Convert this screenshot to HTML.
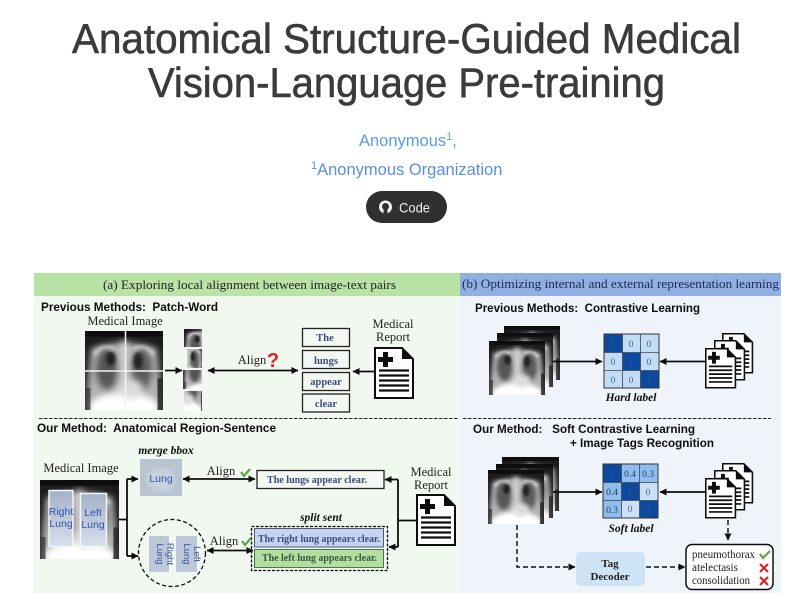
<!DOCTYPE html>
<html><head><meta charset="utf-8"><style>
html,body{margin:0;padding:0;background:#fff;width:800px;height:600px;overflow:hidden}
svg{display:block}
text{font-family:"Liberation Sans",sans-serif}
.s{font-family:"Liberation Serif",serif}
.h{font-weight:bold;font-size:12px;fill:#111;white-space:pre}
.b{font-family:"Liberation Serif",serif;font-weight:bold;fill:#3d4a80;font-size:10.5px;text-anchor:middle}
.t{font-family:"Liberation Serif",serif;font-size:12.5px;fill:#222;text-anchor:middle}
.l{fill:none;stroke:#111;stroke-width:1.8}
.d{fill:none;stroke:#111;stroke-width:1.4;stroke-dasharray:5 3}
.i{font-family:"Liberation Serif",serif;font-weight:bold;font-style:italic;font-size:11.5px;fill:#111;text-anchor:middle}
.m{font-family:"Liberation Serif",serif;font-size:9.5px;text-anchor:middle;fill:#46688f}
.lt{font-size:10.5px;fill:#3553a6;text-anchor:middle}
.it{font-family:"Liberation Serif",serif;font-size:11.5px;fill:#222}
</style></head><body>
<svg xmlns="http://www.w3.org/2000/svg" width="800" height="600" viewBox="0 0 800 600">
<defs>
<filter id="bl" x="-40%" y="-40%" width="180%" height="180%"><feGaussianBlur stdDeviation="4"/></filter>
<filter id="bm" x="-40%" y="-40%" width="180%" height="180%"><feGaussianBlur stdDeviation="2"/></filter>
<filter id="bs" x="-30%" y="-30%" width="160%" height="160%"><feGaussianBlur stdDeviation="1.6"/></filter>
<filter id="tb" x="-5%" y="-5%" width="110%" height="110%"><feGaussianBlur stdDeviation="0.35"/></filter>
<clipPath id="c100"><rect width="100" height="100"/></clipPath>
<marker id="a" markerWidth="8" markerHeight="8" refX="6.500" refY="3.500" orient="auto-start-reverse" markerUnits="userSpaceOnUse"><path d="M0 0L7 3.500L0 7Z" fill="#111"/></marker>
<linearGradient id="g2" x1="0" y1="0" x2="0" y2="1"><stop offset="0" stop-color="#a4b2c9"/><stop offset="1" stop-color="#d5dfec"/></linearGradient>
<g id="x"><g clip-path="url(#c100)">
<rect width="100" height="100" fill="#1c1c1c"/>
<g filter="url(#bl)">
<path d="M8 22Q50 8 92 22L100 100H0Z" fill="#b4b4b4"/>
<ellipse cx="28" cy="48" rx="15" ry="27" fill="#565656"/>
<ellipse cx="73" cy="48" rx="14" ry="27" fill="#5c5c5c"/>
<ellipse cx="50" cy="100" rx="46" ry="22" fill="#fff"/>
<ellipse cx="58" cy="74" rx="16" ry="12" fill="#ddd"/>
<rect x="45" y="12" width="10" height="50" fill="#cfcfcf"/>
</g>
<g filter="url(#bm)">
<ellipse cx="33" cy="35" rx="6" ry="9" fill="#222"/>
<ellipse cx="68" cy="38" rx="6" ry="11" fill="#262626"/>
<path d="M12 30Q20 16 38 22M88 30Q80 16 62 22" fill="none" stroke="#ddd" stroke-width="3"/>
</g>
<rect width="100" height="7" fill="#111"/>
<rect x="0" y="72" width="7" height="28" fill="#333" opacity=".7"/><rect x="93" y="60" width="7" height="40" fill="#222" opacity=".8"/>
</g></g>
<g id="doc"><path d="M1 1H28L39 12V51H1Z" fill="#fff" stroke="#111" stroke-width="2"/><path d="M28 1L39 12H28Z" fill="#111"/>
<path d="M9 5h5v5h5v5h-5v5h-5v-5h-5v-5h5z" fill="#111"/>
<path d="M5 23.500H35M5 28.500H35M5 33.500H35M5 38.500H35M5 43.500H35" stroke="#111" stroke-width="2.200"/></g>
<g id="docs"><use href="#doc" transform="translate(17,-15) scale(.78)"/><use href="#doc" transform="translate(9,-8) scale(.78)"/><use href="#doc" transform="scale(.78)"/></g>
</defs>
<rect width="800" height="600" fill="#fff"/>

<g filter="url(#tb)">
<text x="72" y="53" font-size="42" fill="#3a3a3a" stroke="#3a3a3a" stroke-width=".6" textLength="669" lengthAdjust="spacingAndGlyphs">Anatomical Structure-Guided Medical</text>
<text x="148" y="97" font-size="42" fill="#3a3a3a" stroke="#3a3a3a" stroke-width=".6" textLength="517" lengthAdjust="spacingAndGlyphs">Vision-Language Pre-training</text>
<text x="359" y="146" font-size="16.500" fill="#5a9be6">Anonymous<tspan font-size="11" dy="-6">1</tspan><tspan dy="6">,</tspan></text>
<text x="311" y="175" font-size="16.500" fill="#5a8fdc"><tspan font-size="11" dy="-6">1</tspan><tspan dy="6">Anonymous Organization</tspan></text>
</g>
<rect x="366" y="191" width="81" height="32" rx="16" fill="#303030"/>
<circle cx="385.500" cy="207" r="6.500" fill="#f2f2f2"/>
<path d="M382 206.500a3.500 3.500 0 0 1 7 0a3.500 3.500 0 0 1 -7 0M383.500 209.500h4v4h-4z" fill="#303030"/>
<text x="399" y="212.500" font-size="14" fill="#eee" textLength="31" lengthAdjust="spacingAndGlyphs">Code</text>

<rect x="34" y="273" width="426" height="320" fill="#f1f8ef"/>
<rect x="460" y="273" width="321" height="320" fill="#eff4fb"/>
<rect x="34" y="273" width="426" height="23" fill="#b9e3a6"/>
<rect x="460" y="273" width="321" height="23" fill="#8fb0e0"/>

<g filter="url(#tb)">
<text class="s" x="103" y="289" font-size="13" fill="#222" textLength="293" lengthAdjust="spacingAndGlyphs">(a) Exploring local alignment between image-text pairs</text>
<text class="s" x="462" y="288" font-size="13" fill="#1e2a55" textLength="317" lengthAdjust="spacingAndGlyphs">(b) Optimizing internal and external representation learning</text>

<text class="h" x="41" y="311" textLength="177" lengthAdjust="spacingAndGlyphs">Previous Methods:  Patch-Word</text>
<text class="t" x="125" y="325">Medical Image</text>
<use href="#x" transform="translate(85,331) scale(.78,.79)"/>
<path d="M125.500 331V410M85 371H163" stroke="#f2f2f2" stroke-width="1.500"/>
<svg x="184" y="329" width="18" height="18" viewBox="0 10 45 45" preserveAspectRatio="none"><use href="#x"/></svg>
<svg x="187" y="349" width="15" height="19" viewBox="50 20 45 45" preserveAspectRatio="none"><use href="#x"/></svg>
<svg x="183" y="370" width="19" height="19" viewBox="0 45 45 45" preserveAspectRatio="none"><use href="#x"/></svg>
<svg x="184" y="391" width="18" height="20" viewBox="50 55 45 45" preserveAspectRatio="none"><use href="#x"/></svg>
<path class="l" d="M165 370.500H182" marker-end="url(#a)"/>
<path class="l" d="M208 370.500H298" marker-start="url(#a)" marker-end="url(#a)"/>
<text class="t" x="252" y="364">Align</text>
<text x="273" y="367" font-size="20" font-weight="bold" fill="#e02020" text-anchor="middle">?</text>
<g fill="#f4f8f2" stroke="#222" stroke-width="1.300">
<rect x="302.500" y="328.500" width="47" height="18"/><rect x="302.500" y="350.500" width="47" height="18"/><rect x="302.500" y="372.500" width="47" height="18"/><rect x="302.500" y="394" width="47" height="18"/></g>
<text class="b" x="325" y="341">The</text><text class="b" x="326" y="364">lungs</text><text class="b" x="326" y="385">appear</text><text class="b" x="326" y="407">clear</text>
<text class="t" x="393" y="328">Medical</text><text class="t" x="393" y="341">Report</text>
<use href="#doc" transform="translate(374,347)"/>
<path class="l" d="M374 371.500H353" marker-end="url(#a)"/>
<path d="M39 418.500H458" stroke="#222" stroke-width="1" stroke-dasharray="3.500 1.500" fill="none"/>

<text class="h" x="37" y="432" textLength="239" lengthAdjust="spacingAndGlyphs">Our Method:  Anatomical Region-Sentence</text>
<text class="i" x="166" y="454">merge bbox</text>
<text class="t" x="81" y="472">Medical Image</text>
<use href="#x" transform="translate(40,480) scale(.79)"/>
<rect x="49" y="490.500" width="24" height="56" fill="url(#g2)" stroke="#f5f5f5" stroke-width="1.500"/>
<rect x="80.500" y="493.500" width="26" height="53" fill="url(#g2)" stroke="#f5f5f5" stroke-width="1.500"/>
<text class="lt" x="61" y="515">Right</text><text class="lt" x="61" y="527">Lung</text>
<text class="lt" x="93" y="516">Left</text><text class="lt" x="93" y="528">Lung</text>
<rect x="140" y="459" width="42" height="37" fill="#b9c4d2"/>
<ellipse cx="161" cy="480" rx="14" ry="12" fill="#c8d2de" filter="url(#bs)"/>
<text class="lt" x="161" y="482">Lung</text>
<path class="l" d="M119 519.500H127M127 479V556"/>
<path class="l" d="M127 479H138" marker-end="url(#a)"/>
<path class="l" d="M127 556H138" marker-end="url(#a)"/>
<path class="l" d="M183 479H255" marker-start="url(#a)" marker-end="url(#a)"/>
<text class="t" x="221" y="475">Align</text>
<path d="M241 472l3 4l6-7" fill="none" stroke="#58a848" stroke-width="2.200"/>
<rect x="257" y="470.500" width="127" height="18" fill="#f4f8f2" stroke="#222" stroke-width="1.300"/>
<text class="b" x="267" y="483" style="text-anchor:start" textLength="100" lengthAdjust="spacingAndGlyphs">The lungs appear clear.</text>
<path class="l" d="M416 520.500H398M398 479.500V547"/>
<path class="l" d="M398 479.500H385" marker-end="url(#a)"/>
<path class="l" d="M398 547H389" marker-end="url(#a)"/>
<text class="t" x="431" y="476">Medical</text><text class="t" x="431" y="489">Report</text>
<use href="#doc" transform="translate(416,494)"/>
<text class="i" x="321" y="521">split sent</text>
<rect x="251.500" y="526.500" width="136" height="44" fill="none" stroke="#111" stroke-width="1.300" stroke-dasharray="3 1.500"/>
<rect x="254.500" y="528.500" width="129" height="18.500" fill="#c5d5ef" stroke="#557" stroke-width="1"/>
<rect x="254.500" y="549.500" width="129" height="18" fill="#b6dda0" stroke="#475" stroke-width="1"/>
<text class="b" x="258" y="542" style="text-anchor:start" textLength="122" lengthAdjust="spacingAndGlyphs">The right lung appears clear.</text>
<text class="b" x="262" y="561" style="text-anchor:start;fill:#35583f" textLength="115" lengthAdjust="spacingAndGlyphs">The left lung appears clear.</text>
<circle cx="172" cy="553" r="33.500" fill="none" stroke="#111" stroke-width="1.300" stroke-dasharray="4 2.500"/>
<rect x="149" y="536" width="20" height="36" fill="#bcc8d8"/>
<rect x="176" y="536" width="21" height="36" fill="#bcc8d8"/>
<text class="lt" transform="translate(163,554) rotate(90)" x="0" y="0" style="font-size:9.500px"><tspan x="0" dy="-4">Right</tspan><tspan x="0" dy="10">Lung</tspan></text>
<text class="lt" transform="translate(190,554) rotate(90)" x="0" y="0" style="font-size:9.500px"><tspan x="0" dy="-4">Left</tspan><tspan x="0" dy="10">Lung</tspan></text>
<path class="l" d="M207 550.500H253" marker-start="url(#a)" marker-end="url(#a)"/>
<text class="t" x="224" y="545">Align</text>
<path d="M242 541l3 4l6-7" fill="none" stroke="#58a848" stroke-width="2.200"/>

<text class="h" x="475" y="312" textLength="225" lengthAdjust="spacingAndGlyphs">Previous Methods:  Contrastive Learning</text>
<use href="#x" transform="translate(504,326) scale(.56,.54)"/>
<use href="#x" transform="translate(497,333) scale(.56,.54)"/>
<use href="#x" transform="translate(489,341) scale(.56,.54)"/>
<path class="l" d="M553 361.500H602" marker-end="url(#a)"/>
<rect x="604" y="334" width="55" height="54" fill="#c3dcf5" stroke="#333" stroke-width="1"/>
<g fill="#0b4a9c"><rect x="604.500" y="334.500" width="18" height="18"/><rect x="622.500" y="352.500" width="18" height="18"/><rect x="640.500" y="370.500" width="18" height="17"/></g>
<path d="M622.500 334V388M640.500 334V388M604 352.500H659M604 370.500H659" stroke="#445" stroke-width=".8"/>
<text class="m" x="613" y="347" style="fill:#2d5a9a">1</text><text class="m" x="631" y="347">0</text><text class="m" x="649" y="347">0</text>
<text class="m" x="613" y="365">0</text><text class="m" x="631" y="365" style="fill:#2d5a9a">1</text><text class="m" x="649" y="365">0</text>
<text class="m" x="613" y="383">0</text><text class="m" x="631" y="383">0</text><text class="m" x="649" y="383" style="fill:#2d5a9a">1</text>
<path class="l" d="M705 361.500H660" marker-end="url(#a)"/>
<use href="#docs" transform="translate(705,348)"/>
<text class="i" x="631" y="401">Hard label</text>
<path d="M463 418.500H771" stroke="#222" stroke-width="1" stroke-dasharray="3.500 1.500" fill="none"/>

<text class="h" x="473" y="433" textLength="222" lengthAdjust="spacingAndGlyphs">Our Method:   Soft Contrastive Learning</text>
<text class="h" x="570" y="447" textLength="144" lengthAdjust="spacingAndGlyphs">+ Image Tags Recognition</text>
<use href="#x" transform="translate(502,457) scale(.57,.54)"/>
<use href="#x" transform="translate(496,464) scale(.57,.54)"/>
<use href="#x" transform="translate(488,470) scale(.56,.54)"/>
<path class="l" d="M553 492H602" marker-end="url(#a)"/>
<rect x="603" y="464" width="55" height="54" fill="#8fbdee" stroke="#333" stroke-width="1"/>
<g fill="#0b4a9c"><rect x="603.500" y="464.500" width="18" height="18"/><rect x="621.500" y="482.500" width="18" height="18"/><rect x="639.500" y="500.500" width="18" height="17"/></g>
<g fill="#c9e0f7"><rect x="639.500" y="482.500" width="18" height="18"/><rect x="621.500" y="500.500" width="18" height="17"/></g>
<path d="M621.500 464V518M639.500 464V518M603 482.500H658M603 500.500H658" stroke="#445" stroke-width=".8"/>
<g><text class="m" x="612" y="477" style="fill:#2d5a9a">1</text><text class="m" x="630" y="477" style="fill:#243f66">0.4</text><text class="m" x="648" y="477" style="fill:#243f66">0.3</text>
<text class="m" x="612" y="495" style="fill:#243f66">0.4</text><text class="m" x="630" y="495" style="fill:#2d5a9a">1</text><text class="m" x="648" y="495">0</text>
<text class="m" x="612" y="513" style="fill:#243f66">0.3</text><text class="m" x="630" y="512">0</text><text class="m" x="648" y="513" style="fill:#2d5a9a">1</text></g>
<path class="l" d="M705 492H660" marker-end="url(#a)"/>
<use href="#docs" transform="translate(705,478)"/>
<text class="i" x="631" y="532">Soft label</text>
<path class="d" d="M728 520V540" marker-end="url(#a)"/>
<path class="d" d="M517 525V567H575" marker-end="url(#a)"/>
<rect x="576" y="552" width="69" height="34" rx="5" fill="#cfe3f7"/>
<text class="s" x="610" y="567" font-size="11" font-weight="bold" fill="#222" text-anchor="middle">Tag</text>
<text class="s" x="610" y="580" font-size="11" font-weight="bold" fill="#222" text-anchor="middle">Decoder</text>
<path class="d" d="M646 567H685" marker-end="url(#a)"/>
<rect x="686" y="544.500" width="87" height="45" rx="6" fill="#fff" stroke="#111" stroke-width="1.500"/>
<text class="it" x="692" y="558" textLength="63" lengthAdjust="spacingAndGlyphs">pneumothorax</text>
<text class="it" x="692" y="571" textLength="46" lengthAdjust="spacingAndGlyphs">atelectasis</text>
<text class="it" x="692" y="584" textLength="58" lengthAdjust="spacingAndGlyphs">consolidation</text>
<path d="M760 554l3 4l7-7" fill="none" stroke="#58a848" stroke-width="2.200"/>
<path d="M760 564l8 8M768 564l-8 8M760 577l8 8M768 577l-8 8" fill="none" stroke="#e02020" stroke-width="2.200"/>
</g>
</svg>
</body></html>
